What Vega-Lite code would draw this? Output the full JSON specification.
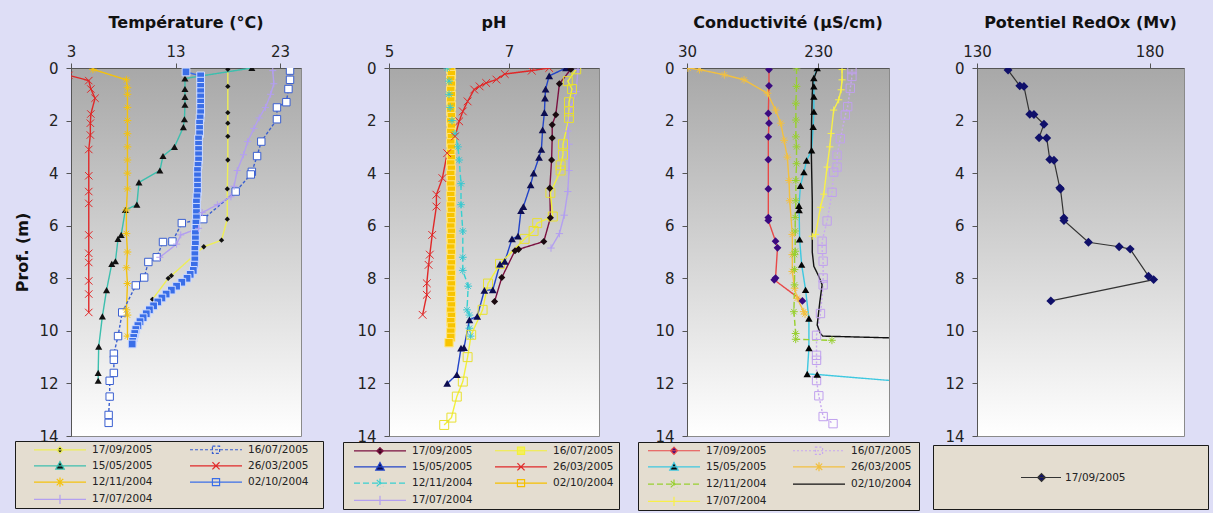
{
"$schema": "https://vega.github.io/schema/vega-lite/v6.json",
"background": "#dedef6",
"padding": {"left": 14, "top": 14, "right": 5, "bottom": 5},
"bounds": "flush",
"spacing": 88,
"config": {
  "font": "DejaVu Sans",
  "view": {"fill": {"gradient": "linear", "x1": 0, "y1": 0, "x2": 0, "y2": 1, "stops": [{"offset": 0, "color": "#a8a8a8"}, {"offset": 1, "color": "#ffffff"}]}, "stroke": "#8a8a8a", "strokeWidth": 1},
  "axis": {"labelFont": "DejaVu Sans", "labelFontSize": 15, "labelColor": "#222222", "domainColor": "#555555", "tickColor": "#555555", "tickSize": 5, "grid": false, "labelFlush": false, "format": "d", "titleFont": "DejaVu Sans", "titleFontWeight": "bold", "titleFontSize": 16, "titleColor": "#111111"},
  "axisY": {"labelPadding": 8, "titlePadding": 8},
  "axisX": {"labelPadding": 4},
  "title": {"font": "DejaVu Sans", "fontSize": 16, "fontWeight": "bold", "color": "#111111", "offset": 13},
  "legend": {"labelFont": "DejaVu Sans", "labelFontSize": 10.5, "labelColor": "#222222", "fillColor": "#e4ddd0", "strokeColor": "#1a1a1a", "symbolSize": 169, "rowPadding": 2.3, "padding": 1, "direction": "horizontal"}
},
"resolve": {"scale": {"x": "independent", "y": "independent", "color": "independent", "strokeDash": "independent"}, "legend": {"color": "independent"}},
"datasets": {
"t": [
{"s":"17/09/2005","d":0.05,"v":18.0},{"s":"17/09/2005","d":0.7,"v":18.0},{"s":"17/09/2005","d":1.7,"v":18.0},{"s":"17/09/2005","d":2.1,"v":18.0},{"s":"17/09/2005","d":2.6,"v":18.0},{"s":"17/09/2005","d":3.5,"v":18.0},{"s":"17/09/2005","d":4.6,"v":17.95},{"s":"17/09/2005","d":5.75,"v":17.95},{"s":"17/09/2005","d":6.55,"v":17.4},{"s":"17/09/2005","d":6.8,"v":15.7},{"s":"17/09/2005","d":7.9,"v":12.6},{"s":"17/09/2005","d":8.0,"v":12.3},{"s":"17/09/2005","d":8.8,"v":10.8},
{"s":"15/05/2005","d":0,"v":20.3},{"s":"15/05/2005","d":0.4,"v":13.9},{"s":"15/05/2005","d":0.8,"v":13.9},{"s":"15/05/2005","d":1.1,"v":13.9},{"s":"15/05/2005","d":1.4,"v":13.9},{"s":"15/05/2005","d":1.95,"v":13.85},{"s":"15/05/2005","d":2.25,"v":13.75},{"s":"15/05/2005","d":3.0,"v":12.9},{"s":"15/05/2005","d":3.35,"v":11.8},{"s":"15/05/2005","d":3.9,"v":11.5},{"s":"15/05/2005","d":4.35,"v":9.5},{"s":"15/05/2005","d":5.2,"v":9.3},{"s":"15/05/2005","d":5.4,"v":8.2},{"s":"15/05/2005","d":6.35,"v":7.8},{"s":"15/05/2005","d":6.5,"v":7.5},{"s":"15/05/2005","d":7.35,"v":7.25},{"s":"15/05/2005","d":7.45,"v":6.9},{"s":"15/05/2005","d":8.45,"v":6.4},{"s":"15/05/2005","d":9.45,"v":6.0},{"s":"15/05/2005","d":10.6,"v":5.65},{"s":"15/05/2005","d":11.6,"v":5.6},{"s":"15/05/2005","d":11.9,"v":5.6},
{"s":"12/11/2004","d":0.05,"v":5.1},{"s":"12/11/2004","d":0.45,"v":8.3},{"s":"12/11/2004","d":0.75,"v":8.4},{"s":"12/11/2004","d":1.0,"v":8.4},{"s":"12/11/2004","d":1.5,"v":8.4},{"s":"12/11/2004","d":2.0,"v":8.4},{"s":"12/11/2004","d":2.5,"v":8.4},{"s":"12/11/2004","d":3.0,"v":8.4},{"s":"12/11/2004","d":3.5,"v":8.4},{"s":"12/11/2004","d":4.0,"v":8.4},{"s":"12/11/2004","d":4.6,"v":8.4},{"s":"12/11/2004","d":5.4,"v":8.3},{"s":"12/11/2004","d":6.3,"v":8.3},{"s":"12/11/2004","d":7.0,"v":8.4},{"s":"12/11/2004","d":7.6,"v":8.3},{"s":"12/11/2004","d":8.2,"v":8.4},{"s":"12/11/2004","d":9.2,"v":8.3},{"s":"12/11/2004","d":9.4,"v":8.4},{"s":"12/11/2004","d":10.2,"v":8.4},
{"s":"26/03/2005","d":0.28,"v":2.8},{"s":"26/03/2005","d":0.48,"v":4.7},{"s":"26/03/2005","d":0.8,"v":4.9},{"s":"26/03/2005","d":1.15,"v":5.3},{"s":"26/03/2005","d":1.75,"v":4.9},{"s":"26/03/2005","d":2.1,"v":4.85},{"s":"26/03/2005","d":2.55,"v":4.85},{"s":"26/03/2005","d":3.1,"v":4.7},{"s":"26/03/2005","d":4.1,"v":4.7},{"s":"26/03/2005","d":4.7,"v":4.7},{"s":"26/03/2005","d":5.15,"v":4.7},{"s":"26/03/2005","d":6.35,"v":4.7},{"s":"26/03/2005","d":7.05,"v":4.7},{"s":"26/03/2005","d":7.4,"v":4.7},{"s":"26/03/2005","d":8.1,"v":4.7},{"s":"26/03/2005","d":8.6,"v":4.7},{"s":"26/03/2005","d":9.3,"v":4.7},
{"s":"16/07/2005","d":0.1,"v":23.95},{"s":"16/07/2005","d":0.45,"v":23.95},{"s":"16/07/2005","d":0.8,"v":23.8},{"s":"16/07/2005","d":1.3,"v":23.6},{"s":"16/07/2005","d":1.5,"v":22.7},{"s":"16/07/2005","d":1.95,"v":22.7},{"s":"16/07/2005","d":2.8,"v":21.2},{"s":"16/07/2005","d":3.35,"v":20.8},{"s":"16/07/2005","d":3.95,"v":20.3},{"s":"16/07/2005","d":4.05,"v":20.2},{"s":"16/07/2005","d":4.7,"v":18.75},{"s":"16/07/2005","d":5.75,"v":15.65},{"s":"16/07/2005","d":5.9,"v":13.6},{"s":"16/07/2005","d":6.6,"v":12.7},{"s":"16/07/2005","d":6.62,"v":11.8},{"s":"16/07/2005","d":7.2,"v":11.2},{"s":"16/07/2005","d":7.38,"v":10.4},{"s":"16/07/2005","d":7.97,"v":10.0},{"s":"16/07/2005","d":8.27,"v":9.2},{"s":"16/07/2005","d":9.3,"v":7.9},{"s":"16/07/2005","d":10.2,"v":7.5},{"s":"16/07/2005","d":10.87,"v":7.1},{"s":"16/07/2005","d":11.1,"v":7.1},{"s":"16/07/2005","d":11.6,"v":7.1},{"s":"16/07/2005","d":11.9,"v":6.7},{"s":"16/07/2005","d":12.5,"v":6.7},{"s":"16/07/2005","d":13.2,"v":6.6},{"s":"16/07/2005","d":13.5,"v":6.6},
{"s":"02/10/2004","d":0.15,"v":14.0},{"s":"02/10/2004","d":0.3,"v":15.4},{"s":"02/10/2004","d":0.5,"v":15.4},{"s":"02/10/2004","d":0.7,"v":15.4},{"s":"02/10/2004","d":0.9,"v":15.4},{"s":"02/10/2004","d":1.1,"v":15.4},{"s":"02/10/2004","d":1.3,"v":15.4},{"s":"02/10/2004","d":1.5,"v":15.4},{"s":"02/10/2004","d":1.7,"v":15.4},{"s":"02/10/2004","d":1.9,"v":15.35},{"s":"02/10/2004","d":2.1,"v":15.3},{"s":"02/10/2004","d":2.3,"v":15.3},{"s":"02/10/2004","d":2.5,"v":15.3},{"s":"02/10/2004","d":2.7,"v":15.2},{"s":"02/10/2004","d":2.9,"v":15.2},{"s":"02/10/2004","d":3.1,"v":15.2},{"s":"02/10/2004","d":3.3,"v":15.2},{"s":"02/10/2004","d":3.5,"v":15.2},{"s":"02/10/2004","d":3.7,"v":15.15},{"s":"02/10/2004","d":3.9,"v":15.1},{"s":"02/10/2004","d":4.1,"v":15.1},{"s":"02/10/2004","d":4.3,"v":15.1},{"s":"02/10/2004","d":4.5,"v":15.1},{"s":"02/10/2004","d":4.7,"v":15.1},{"s":"02/10/2004","d":4.9,"v":15.05},{"s":"02/10/2004","d":5.1,"v":15.0},{"s":"02/10/2004","d":5.3,"v":15.0},{"s":"02/10/2004","d":5.5,"v":15.0},{"s":"02/10/2004","d":5.7,"v":15.0},{"s":"02/10/2004","d":5.9,"v":14.95},{"s":"02/10/2004","d":6.1,"v":14.95},{"s":"02/10/2004","d":6.3,"v":14.9},{"s":"02/10/2004","d":6.5,"v":14.9},{"s":"02/10/2004","d":6.7,"v":14.9},{"s":"02/10/2004","d":6.9,"v":14.85},{"s":"02/10/2004","d":7.1,"v":14.85},{"s":"02/10/2004","d":7.3,"v":14.85},{"s":"02/10/2004","d":7.5,"v":14.8},{"s":"02/10/2004","d":7.7,"v":14.7},{"s":"02/10/2004","d":7.85,"v":14.4},{"s":"02/10/2004","d":8.0,"v":14.1},{"s":"02/10/2004","d":8.15,"v":13.6},{"s":"02/10/2004","d":8.3,"v":13.1},{"s":"02/10/2004","d":8.45,"v":12.6},{"s":"02/10/2004","d":8.6,"v":12.1},{"s":"02/10/2004","d":8.75,"v":11.7},{"s":"02/10/2004","d":8.9,"v":11.3},{"s":"02/10/2004","d":9.05,"v":10.9},{"s":"02/10/2004","d":9.2,"v":10.5},{"s":"02/10/2004","d":9.35,"v":10.2},{"s":"02/10/2004","d":9.5,"v":9.9},{"s":"02/10/2004","d":9.65,"v":9.6},{"s":"02/10/2004","d":9.8,"v":9.4},{"s":"02/10/2004","d":9.95,"v":9.2},{"s":"02/10/2004","d":10.1,"v":9.1},{"s":"02/10/2004","d":10.25,"v":9.0},{"s":"02/10/2004","d":10.4,"v":8.9},{"s":"02/10/2004","d":10.5,"v":8.85},
{"s":"17/07/2004","d":0.1,"v":22.3},{"s":"17/07/2004","d":0.6,"v":22.4},{"s":"17/07/2004","d":1.0,"v":22.1},{"s":"17/07/2004","d":1.5,"v":21.6},{"s":"17/07/2004","d":1.9,"v":21.0},{"s":"17/07/2004","d":2.3,"v":20.5},{"s":"17/07/2004","d":2.8,"v":19.9},{"s":"17/07/2004","d":3.3,"v":19.5},{"s":"17/07/2004","d":3.9,"v":18.9},{"s":"17/07/2004","d":4.5,"v":18.6},{"s":"17/07/2004","d":4.9,"v":18.3},{"s":"17/07/2004","d":5.2,"v":17.0},{"s":"17/07/2004","d":5.5,"v":15.55},{"s":"17/07/2004","d":6.1,"v":15.2},{"s":"17/07/2004","d":6.35,"v":13.5},{"s":"17/07/2004","d":6.7,"v":13.1},{"s":"17/07/2004","d":7.2,"v":11.5}
],
"ph": [
{"s":"17/09/2005","d":0.05,"v":8.03},{"s":"17/09/2005","d":0.6,"v":7.84},{"s":"17/09/2005","d":1.78,"v":7.78},{"s":"17/09/2005","d":2.16,"v":7.72},{"s":"17/09/2005","d":2.66,"v":7.72},{"s":"17/09/2005","d":3.5,"v":7.71},{"s":"17/09/2005","d":4.57,"v":7.68},{"s":"17/09/2005","d":5.7,"v":7.69},{"s":"17/09/2005","d":6.6,"v":7.58},{"s":"17/09/2005","d":6.9,"v":7.16},{"s":"17/09/2005","d":6.95,"v":7.1},{"s":"17/09/2005","d":7.97,"v":6.88},{"s":"17/09/2005","d":8.88,"v":6.76},
{"s":"15/05/2005","d":0,"v":7.95},{"s":"15/05/2005","d":0.3,"v":7.67},{"s":"15/05/2005","d":0.8,"v":7.61},{"s":"15/05/2005","d":1.15,"v":7.6},{"s":"15/05/2005","d":1.7,"v":7.59},{"s":"15/05/2005","d":2.35,"v":7.56},{"s":"15/05/2005","d":3.1,"v":7.54},{"s":"15/05/2005","d":3.4,"v":7.5},{"s":"15/05/2005","d":4.0,"v":7.41},{"s":"15/05/2005","d":4.45,"v":7.36},{"s":"15/05/2005","d":5.27,"v":7.24},{"s":"15/05/2005","d":5.43,"v":7.2},{"s":"15/05/2005","d":6.4,"v":7.15},{"s":"15/05/2005","d":6.5,"v":7.05},{"s":"15/05/2005","d":7.36,"v":6.93},{"s":"15/05/2005","d":7.46,"v":6.85},{"s":"15/05/2005","d":8.44,"v":6.73},{"s":"15/05/2005","d":8.46,"v":6.59},{"s":"15/05/2005","d":9.45,"v":6.47},{"s":"15/05/2005","d":9.58,"v":6.34},{"s":"15/05/2005","d":10.64,"v":6.25},{"s":"15/05/2005","d":10.66,"v":6.2},{"s":"15/05/2005","d":11.67,"v":6.13},{"s":"15/05/2005","d":12.0,"v":5.97},
{"s":"12/11/2004","d":0,"v":5.97},{"s":"12/11/2004","d":0.5,"v":6.0},{"s":"12/11/2004","d":1.0,"v":6.0},{"s":"12/11/2004","d":1.5,"v":6.02},{"s":"12/11/2004","d":2.0,"v":6.05},{"s":"12/11/2004","d":2.5,"v":6.1},{"s":"12/11/2004","d":3.0,"v":6.15},{"s":"12/11/2004","d":3.5,"v":6.17},{"s":"12/11/2004","d":4.4,"v":6.2},{"s":"12/11/2004","d":5.2,"v":6.2},{"s":"12/11/2004","d":6.2,"v":6.23},{"s":"12/11/2004","d":7.2,"v":6.23},{"s":"12/11/2004","d":7.7,"v":6.23},{"s":"12/11/2004","d":8.3,"v":6.32},{"s":"12/11/2004","d":9.2,"v":6.3},{"s":"12/11/2004","d":9.4,"v":6.34},{"s":"12/11/2004","d":9.9,"v":6.34},{"s":"12/11/2004","d":10.2,"v":6.36},
{"s":"16/07/2005","d":0.05,"v":8.12},{"s":"16/07/2005","d":0.5,"v":7.98},{"s":"16/07/2005","d":0.8,"v":8.05},{"s":"16/07/2005","d":1.3,"v":8.0},{"s":"16/07/2005","d":1.65,"v":8.0},{"s":"16/07/2005","d":1.9,"v":8.0},{"s":"16/07/2005","d":2.9,"v":7.9},{"s":"16/07/2005","d":3.3,"v":7.9},{"s":"16/07/2005","d":3.7,"v":7.86},{"s":"16/07/2005","d":3.9,"v":7.86},{"s":"16/07/2005","d":4.75,"v":7.69},{"s":"16/07/2005","d":5.65,"v":7.73},{"s":"16/07/2005","d":5.9,"v":7.47},{"s":"16/07/2005","d":6.2,"v":7.41},{"s":"16/07/2005","d":6.5,"v":7.26},{"s":"16/07/2005","d":7.45,"v":6.85},{"s":"16/07/2005","d":8.2,"v":6.65},{"s":"16/07/2005","d":9.2,"v":6.56},{"s":"16/07/2005","d":10.15,"v":6.37},{"s":"16/07/2005","d":11.0,"v":6.31},{"s":"16/07/2005","d":11.93,"v":6.23},{"s":"16/07/2005","d":12.5,"v":6.13},{"s":"16/07/2005","d":13.3,"v":6.04},{"s":"16/07/2005","d":13.58,"v":5.92},
{"s":"26/03/2005","d":0,"v":7.67},{"s":"26/03/2005","d":0.1,"v":7.38},{"s":"26/03/2005","d":0.23,"v":6.93},{"s":"26/03/2005","d":0.44,"v":6.79},{"s":"26/03/2005","d":0.57,"v":6.62},{"s":"26/03/2005","d":0.7,"v":6.51},{"s":"26/03/2005","d":0.82,"v":6.42},{"s":"26/03/2005","d":1.27,"v":6.31},{"s":"26/03/2005","d":1.65,"v":6.23},{"s":"26/03/2005","d":2.03,"v":6.17},{"s":"26/03/2005","d":2.6,"v":6.1},{"s":"26/03/2005","d":3.24,"v":5.97},{"s":"26/03/2005","d":4.19,"v":5.89},{"s":"26/03/2005","d":4.82,"v":5.79},{"s":"26/03/2005","d":5.27,"v":5.79},{"s":"26/03/2005","d":6.35,"v":5.72},{"s":"26/03/2005","d":7.1,"v":5.68},{"s":"26/03/2005","d":7.49,"v":5.66},{"s":"26/03/2005","d":8.19,"v":5.63},{"s":"26/03/2005","d":8.63,"v":5.63},{"s":"26/03/2005","d":9.39,"v":5.56},
{"s":"02/10/2004","d":0.05,"v":6.03},{"s":"02/10/2004","d":0.25,"v":6.04},{"s":"02/10/2004","d":0.45,"v":6.03},{"s":"02/10/2004","d":0.65,"v":6.04},{"s":"02/10/2004","d":0.85,"v":6.03},{"s":"02/10/2004","d":1.05,"v":6.04},{"s":"02/10/2004","d":1.25,"v":6.03},{"s":"02/10/2004","d":1.45,"v":6.04},{"s":"02/10/2004","d":1.65,"v":6.03},{"s":"02/10/2004","d":1.85,"v":6.04},{"s":"02/10/2004","d":2.05,"v":6.03},{"s":"02/10/2004","d":2.25,"v":6.04},{"s":"02/10/2004","d":2.45,"v":6.03},{"s":"02/10/2004","d":2.65,"v":6.04},{"s":"02/10/2004","d":2.85,"v":6.03},{"s":"02/10/2004","d":3.05,"v":6.04},{"s":"02/10/2004","d":3.25,"v":6.03},{"s":"02/10/2004","d":3.45,"v":6.04},{"s":"02/10/2004","d":3.65,"v":6.03},{"s":"02/10/2004","d":3.85,"v":6.04},{"s":"02/10/2004","d":4.05,"v":6.03},{"s":"02/10/2004","d":4.25,"v":6.04},{"s":"02/10/2004","d":4.45,"v":6.03},{"s":"02/10/2004","d":4.65,"v":6.04},{"s":"02/10/2004","d":4.85,"v":6.03},{"s":"02/10/2004","d":5.05,"v":6.04},{"s":"02/10/2004","d":5.25,"v":6.03},{"s":"02/10/2004","d":5.45,"v":6.04},{"s":"02/10/2004","d":5.65,"v":6.03},{"s":"02/10/2004","d":5.85,"v":6.04},{"s":"02/10/2004","d":6.05,"v":6.03},{"s":"02/10/2004","d":6.25,"v":6.04},{"s":"02/10/2004","d":6.45,"v":6.03},{"s":"02/10/2004","d":6.65,"v":6.04},{"s":"02/10/2004","d":6.85,"v":6.03},{"s":"02/10/2004","d":7.05,"v":6.04},{"s":"02/10/2004","d":7.25,"v":6.03},{"s":"02/10/2004","d":7.45,"v":6.04},{"s":"02/10/2004","d":7.65,"v":6.03},{"s":"02/10/2004","d":7.85,"v":6.04},{"s":"02/10/2004","d":8.05,"v":6.03},{"s":"02/10/2004","d":8.25,"v":6.04},{"s":"02/10/2004","d":8.45,"v":6.03},{"s":"02/10/2004","d":8.65,"v":6.04},{"s":"02/10/2004","d":8.85,"v":6.03},{"s":"02/10/2004","d":9.05,"v":6.04},{"s":"02/10/2004","d":9.25,"v":6.03},{"s":"02/10/2004","d":9.45,"v":6.04},{"s":"02/10/2004","d":9.65,"v":6.03},{"s":"02/10/2004","d":9.85,"v":6.04},{"s":"02/10/2004","d":10.05,"v":6.03},{"s":"02/10/2004","d":10.25,"v":6.03},{"s":"02/10/2004","d":10.45,"v":6.0},
{"s":"17/07/2004","d":0.05,"v":8.15},{"s":"17/07/2004","d":0.9,"v":8.12},{"s":"17/07/2004","d":1.5,"v":8.03},{"s":"17/07/2004","d":2.4,"v":7.98},{"s":"17/07/2004","d":2.9,"v":8.0},{"s":"17/07/2004","d":3.9,"v":8.0},{"s":"17/07/2004","d":4.7,"v":7.98},{"s":"17/07/2004","d":5.6,"v":7.92},{"s":"17/07/2004","d":6.3,"v":7.84},{"s":"17/07/2004","d":6.85,"v":7.7}
],
"c": [
{"s":"17/09/2005","d":0.06,"v":155},{"s":"17/09/2005","d":0.68,"v":155},{"s":"17/09/2005","d":1.73,"v":154},{"s":"17/09/2005","d":2.1,"v":155},{"s":"17/09/2005","d":2.62,"v":154},{"s":"17/09/2005","d":3.49,"v":154},{"s":"17/09/2005","d":4.6,"v":154},{"s":"17/09/2005","d":5.69,"v":154},{"s":"17/09/2005","d":5.8,"v":154},{"s":"17/09/2005","d":6.59,"v":165},{"s":"17/09/2005","d":6.84,"v":168},{"s":"17/09/2005","d":7.99,"v":165},{"s":"17/09/2005","d":8.06,"v":163},{"s":"17/09/2005","d":8.86,"v":206},
{"s":"15/05/2005","d":0,"v":228.5},{"s":"15/05/2005","d":0.38,"v":223.4},{"s":"15/05/2005","d":0.7,"v":223.4},{"s":"15/05/2005","d":1.09,"v":223.4},{"s":"15/05/2005","d":1.66,"v":223.4},{"s":"15/05/2005","d":2.24,"v":222.4},{"s":"15/05/2005","d":3.13,"v":220},{"s":"15/05/2005","d":3.52,"v":212.3},{"s":"15/05/2005","d":3.96,"v":208.3},{"s":"15/05/2005","d":4.48,"v":203},{"s":"15/05/2005","d":5.24,"v":200.7},{"s":"15/05/2005","d":5.4,"v":201},{"s":"15/05/2005","d":6.52,"v":201.7},{"s":"15/05/2005","d":7.48,"v":204.8},{"s":"15/05/2005","d":8.44,"v":210.8},{"s":"15/05/2005","d":9.53,"v":215.9},{"s":"15/05/2005","d":10.65,"v":215.9},{"s":"15/05/2005","d":11.64,"v":213.3},{"s":"15/05/2005","d":11.66,"v":228.5},{"s":"15/05/2005","d":11.9,"v":345},
{"s":"12/11/2004","d":0,"v":197},{"s":"12/11/2004","d":0.7,"v":197},{"s":"12/11/2004","d":1.34,"v":196},{"s":"12/11/2004","d":1.98,"v":196},{"s":"12/11/2004","d":2.62,"v":196},{"s":"12/11/2004","d":3.0,"v":197},{"s":"12/11/2004","d":3.64,"v":197},{"s":"12/11/2004","d":4.28,"v":196},{"s":"12/11/2004","d":5.05,"v":196},{"s":"12/11/2004","d":5.69,"v":195},{"s":"12/11/2004","d":6.2,"v":195},{"s":"12/11/2004","d":6.97,"v":195},{"s":"12/11/2004","d":7.1,"v":194},{"s":"12/11/2004","d":7.67,"v":194},{"s":"12/11/2004","d":8.25,"v":194},{"s":"12/11/2004","d":9.27,"v":193},{"s":"12/11/2004","d":10.1,"v":195.7},{"s":"12/11/2004","d":10.32,"v":195.7},{"s":"12/11/2004","d":10.36,"v":251},
{"s":"16/07/2005","d":0.06,"v":281.5},{"s":"16/07/2005","d":0.32,"v":281.5},{"s":"16/07/2005","d":0.77,"v":279},{"s":"16/07/2005","d":1.47,"v":275},{"s":"16/07/2005","d":1.79,"v":271.4},{"s":"16/07/2005","d":2.69,"v":263.8},{"s":"16/07/2005","d":3.32,"v":258.8},{"s":"16/07/2005","d":3.77,"v":258.8},{"s":"16/07/2005","d":3.96,"v":253.7},{"s":"16/07/2005","d":4.73,"v":251.2},{"s":"16/07/2005","d":5.82,"v":243.6},{"s":"16/07/2005","d":6.59,"v":236},{"s":"16/07/2005","d":6.9,"v":236},{"s":"16/07/2005","d":7.35,"v":237.6},{"s":"16/07/2005","d":7.99,"v":237.6},{"s":"16/07/2005","d":8.25,"v":237.6},{"s":"16/07/2005","d":9.34,"v":233.5},{"s":"16/07/2005","d":10.17,"v":227.5},{"s":"16/07/2005","d":10.93,"v":227.5},{"s":"16/07/2005","d":11.12,"v":227.5},{"s":"16/07/2005","d":11.89,"v":227.5},{"s":"16/07/2005","d":12.47,"v":231},{"s":"16/07/2005","d":13.26,"v":237.6},{"s":"16/07/2005","d":13.53,"v":252.7},
{"s":"26/03/2005","d":0,"v":31.5},{"s":"26/03/2005","d":0.06,"v":49},{"s":"26/03/2005","d":0.26,"v":87},{"s":"26/03/2005","d":0.45,"v":117},{"s":"26/03/2005","d":0.96,"v":152.7},{"s":"26/03/2005","d":1.6,"v":165},{"s":"26/03/2005","d":2.1,"v":173},{"s":"26/03/2005","d":2.75,"v":178},{"s":"26/03/2005","d":3.39,"v":183},{"s":"26/03/2005","d":4.28,"v":185.6},{"s":"26/03/2005","d":5.05,"v":186.6},{"s":"26/03/2005","d":6.33,"v":190.6},{"s":"26/03/2005","d":7.1,"v":190.6},{"s":"26/03/2005","d":7.74,"v":190.6},{"s":"26/03/2005","d":8.38,"v":194},{"s":"26/03/2005","d":8.76,"v":198},{"s":"26/03/2005","d":9.27,"v":208},{"s":"26/03/2005","d":9.36,"v":210},
{"s":"02/10/2004","d":0,"v":229.5},{"s":"02/10/2004","d":0.5,"v":222},{"s":"02/10/2004","d":1.0,"v":221},{"s":"02/10/2004","d":2.0,"v":220},{"s":"02/10/2004","d":3.1,"v":219.5},{"s":"02/10/2004","d":3.8,"v":220},{"s":"02/10/2004","d":5.05,"v":221},{"s":"02/10/2004","d":6.3,"v":221},{"s":"02/10/2004","d":7.0,"v":221},{"s":"02/10/2004","d":7.54,"v":223.4},{"s":"02/10/2004","d":7.93,"v":231},{"s":"02/10/2004","d":8.25,"v":236},{"s":"02/10/2004","d":8.9,"v":232.5},{"s":"02/10/2004","d":9.78,"v":228.5},{"s":"02/10/2004","d":10.1,"v":233.5},{"s":"02/10/2004","d":10.2,"v":237},{"s":"02/10/2004","d":10.27,"v":345},
{"s":"17/07/2004","d":0.06,"v":266.4},{"s":"17/07/2004","d":0.45,"v":266.4},{"s":"17/07/2004","d":0.83,"v":265},{"s":"17/07/2004","d":1.21,"v":261.3},{"s":"17/07/2004","d":1.6,"v":253.7},{"s":"17/07/2004","d":2.49,"v":249.7},{"s":"17/07/2004","d":3.0,"v":247.7},{"s":"17/07/2004","d":3.77,"v":243.6},{"s":"17/07/2004","d":4.8,"v":238.6},{"s":"17/07/2004","d":5.3,"v":233.5},{"s":"17/07/2004","d":6.33,"v":226},{"s":"17/07/2004","d":6.4,"v":221}
],
"r": [
{"s":"17/09/2005","d":0.08,"v":139.0},{"s":"17/09/2005","d":0.68,"v":142.4},{"s":"17/09/2005","d":0.7,"v":143.6},{"s":"17/09/2005","d":1.76,"v":145.3},{"s":"17/09/2005","d":1.77,"v":146.5},{"s":"17/09/2005","d":2.14,"v":149.4},{"s":"17/09/2005","d":2.65,"v":148.0},{"s":"17/09/2005","d":2.66,"v":150.2},{"s":"17/09/2005","d":3.48,"v":151.1},{"s":"17/09/2005","d":3.51,"v":152.3},{"s":"17/09/2005","d":4.56,"v":154.0},{"s":"17/09/2005","d":4.6,"v":154.2},{"s":"17/09/2005","d":5.71,"v":155.2},{"s":"17/09/2005","d":5.8,"v":155.2},{"s":"17/09/2005","d":6.63,"v":162.3},{"s":"17/09/2005","d":6.8,"v":171.2},{"s":"17/09/2005","d":6.89,"v":174.4},{"s":"17/09/2005","d":7.92,"v":179.7},{"s":"17/09/2005","d":8.05,"v":181.2},{"s":"17/09/2005","d":8.86,"v":151.4}
]
},
"hconcat": [
{
  "title": "Température (°C)",
  "width": 230, "height": 368,
  "data": {"name": "t"},
  "encoding": {
    "x": {"field": "v", "type": "quantitative", "scale": {"domain": [3, 25], "nice": false, "zero": false}, "axis": {"orient": "top", "values": [3, 13, 23], "title": null}},
    "y": {"field": "d", "type": "quantitative", "scale": {"domain": [0, 14], "reverse": true, "nice": false}, "axis": {"values": [0, 2, 4, 6, 8, 10, 12, 14], "title": "Prof. (m)"}}
  },
  "layer": [
    {"mark": {"type": "line", "strokeWidth": 1.4, "clip": true},
     "encoding": {
       "color": {"field": "s", "type": "nominal",
         "scale": {"domain": ["17/09/2005", "16/07/2005", "15/05/2005", "26/03/2005", "12/11/2004", "02/10/2004", "17/07/2004"], "range": ["#eeee55", "#3a5fd0", "#3cbfae", "#e02828", "#f4c20d", "#3a6ee8", "#b39ff0"]},
         "legend": {"title": null, "orient": "none", "legendX": -56, "legendY": 373, "columns": 2, "columnPadding": 6, "labelOffset": 61,
           "encode": {"symbols": {"update": {
             "shape": {"signal": "'M21.46,0M1.615,0H9.615' + {'17/09/2005':'M5.615,-0.5L6.115,0L5.615,0.5L5.115,0Z','16/07/2005':'M5.065,-0.55H6.165V0.55H5.065Z','15/05/2005':'M5.615,-0.65L6.265,0.5L4.965,0.5Z','26/03/2005':'M5.065,-0.55L6.165,0.55M5.065,0.55L6.165,-0.55','12/11/2004':'M5.615,-0.7V0.7M5.115,-0.5L6.115,0.5M5.115,0.5L6.115,-0.5','02/10/2004':'M5.065,-0.55H6.165V0.55H5.065Z','17/07/2004':'M5.615,-0.7V0.7'}[datum.value]"},
             "fill": {"signal": "{'17/09/2005':'#111111','16/07/2005':'#e4ddd0','15/05/2005':'#111111','26/03/2005':'transparent','12/11/2004':'transparent','02/10/2004':'#e4ddd0','17/07/2004':'transparent'}[datum.value]"},
             "strokeDash": {"signal": "datum.value==='16/07/2005'?[3,2]:[1,0]"},
             "size": {"value": 169}, "strokeWidth": {"value": 1.2}}}}}},
       "strokeDash": {"field": "s", "type": "nominal", "legend": null, "scale": {"domain": ["17/09/2005", "16/07/2005", "15/05/2005", "26/03/2005", "12/11/2004", "02/10/2004", "17/07/2004"], "range": [[1, 0], [3, 2], [1, 0], [1, 0], [1, 0], [1, 0], [1, 0]]}},
       "order": {"value": null}
     }},
    {"transform": [{"filter": {"field": "s", "equal": "17/09/2005"}}], "mark": {"type": "point", "clip": true, "opacity": 1, "shape": "diamond", "filled": true, "color": "#111111", "size": 28}},
    {"transform": [{"filter": {"field": "s", "equal": "16/07/2005"}}], "mark": {"type": "point", "clip": true, "opacity": 1, "shape": "square", "fill": "#ffffff", "stroke": "#3a5fd0", "strokeWidth": 1, "size": 55}},
    {"transform": [{"filter": {"field": "s", "equal": "15/05/2005"}}], "mark": {"type": "point", "clip": true, "opacity": 1, "shape": "triangle-up", "filled": true, "color": "#111111", "size": 50}},
    {"transform": [{"filter": {"field": "s", "equal": "26/03/2005"}}], "mark": {"type": "point", "clip": true, "opacity": 1, "shape": "M-1,-1L1,1M-1,1L1,-1", "filled": false, "color": "#e02828", "strokeWidth": 1, "size": 55}},
    {"transform": [{"filter": {"field": "s", "equal": "12/11/2004"}}], "mark": {"type": "point", "clip": true, "opacity": 1, "shape": "M-1,0H1M0,-1V1M-0.7,-0.7L0.7,0.7M-0.7,0.7L0.7,-0.7", "filled": false, "color": "#f4c20d", "strokeWidth": 1, "size": 60}},
    {"transform": [{"filter": {"field": "s", "equal": "02/10/2004"}}], "mark": {"type": "point", "clip": true, "opacity": 1, "shape": "square", "fill": "#3a6ee8", "stroke": "#d0dcff", "strokeWidth": 1, "size": 60}},
    {"transform": [{"filter": {"field": "s", "equal": "17/07/2004"}}], "mark": {"type": "point", "clip": true, "opacity": 1, "shape": "M-1,0H1M0,-1V1", "filled": false, "color": "#b39ff0", "strokeWidth": 1, "size": 50}}
  ]
},
{
  "title": "pH",
  "width": 210, "height": 368,
  "data": {"name": "ph"},
  "encoding": {
    "x": {"field": "v", "type": "quantitative", "scale": {"domain": [5, 8.5], "nice": false, "zero": false}, "axis": {"orient": "top", "values": [5, 7], "title": null}},
    "y": {"field": "d", "type": "quantitative", "scale": {"domain": [0, 14], "reverse": true, "nice": false}, "axis": {"values": [0, 2, 4, 6, 8, 10, 12, 14], "title": null}}
  },
  "layer": [
    {"mark": {"type": "line", "strokeWidth": 1.4, "clip": true},
     "encoding": {
       "color": {"field": "s", "type": "nominal",
         "scale": {"domain": ["17/09/2005", "16/07/2005", "15/05/2005", "26/03/2005", "12/11/2004", "02/10/2004", "17/07/2004"], "range": ["#7a1040", "#f2f03a", "#2244c8", "#e02828", "#38d0d0", "#f5c000", "#b39ff0"]},
         "legend": {"title": null, "orient": "none", "legendX": -46, "legendY": 374, "columns": 2, "columnPadding": 8, "labelOffset": 53,
           "encode": {"symbols": {"update": {
             "shape": {"signal": "'M18.85,0M0.385,0H8.385' + {'17/09/2005':'M4.385,-0.5L4.885,0L4.385,0.5L3.885,0Z','16/07/2005':'M3.835,-0.55H4.935V0.55H3.835Z','15/05/2005':'M4.385,-0.65L5.035,0.5L3.735,0.5Z','26/03/2005':'M3.835,-0.55L4.935,0.55M3.835,0.55L4.935,-0.55','12/11/2004':'M4.385,-0.7V0.7M3.885,-0.5L4.885,0.5M3.885,0.5L4.885,-0.5','02/10/2004':'M3.835,-0.55H4.935V0.55H3.835Z','17/07/2004':'M4.385,-0.7V0.7'}[datum.value]"},
             "fill": {"signal": "{'17/09/2005':'#1a0a10','16/07/2005':'#f4ee60','15/05/2005':'#0d0d50','26/03/2005':'transparent','12/11/2004':'transparent','02/10/2004':'#e4ddd0','17/07/2004':'transparent'}[datum.value]"},
             "strokeDash": {"signal": "datum.value==='12/11/2004'?[6,3]:[1,0]"},
             "size": {"value": 169}, "strokeWidth": {"value": 1.2}}}}}},
       "strokeDash": {"field": "s", "type": "nominal", "legend": null, "scale": {"domain": ["17/09/2005", "16/07/2005", "15/05/2005", "26/03/2005", "12/11/2004", "02/10/2004", "17/07/2004"], "range": [[1, 0], [1, 0], [1, 0], [1, 0], [6, 3], [1, 0], [1, 0]]}},
       "order": {"value": null}
     }},
    {"transform": [{"filter": {"field": "s", "equal": "02/10/2004"}}], "mark": {"type": "point", "clip": true, "opacity": 1, "shape": "square", "fill": "#f8c400", "stroke": "#ffe680", "strokeWidth": 1, "size": 70}},
    {"transform": [{"filter": {"field": "s", "equal": "12/11/2004"}}], "mark": {"type": "point", "clip": true, "opacity": 1, "shape": "M-1,0H1M0,-1V1M-0.7,-0.7L0.7,0.7M-0.7,0.7L0.7,-0.7", "filled": false, "color": "#38c8d0", "strokeWidth": 1, "size": 60}},
    {"transform": [{"filter": {"field": "s", "equal": "17/07/2004"}}], "mark": {"type": "point", "clip": true, "opacity": 1, "shape": "M-1,0H1M0,-1V1", "filled": false, "color": "#b39ff0", "strokeWidth": 1, "size": 55}},
    {"transform": [{"filter": {"field": "s", "equal": "16/07/2005"}}], "mark": {"type": "point", "clip": true, "opacity": 1, "shape": "square", "filled": false, "color": "#e8e030", "strokeWidth": 1, "size": 80}},
    {"transform": [{"filter": {"field": "s", "equal": "26/03/2005"}}], "mark": {"type": "point", "clip": true, "opacity": 1, "shape": "M-1,-1L1,1M-1,1L1,-1", "filled": false, "color": "#e02828", "strokeWidth": 1, "size": 60}},
    {"transform": [{"filter": {"field": "s", "equal": "15/05/2005"}}], "mark": {"type": "point", "clip": true, "opacity": 1, "shape": "triangle-up", "filled": true, "color": "#0d0d50", "size": 60}},
    {"transform": [{"filter": {"field": "s", "equal": "17/09/2005"}}], "mark": {"type": "point", "clip": true, "opacity": 1, "shape": "diamond", "filled": true, "color": "#1a0a10", "size": 50}}
  ]
},
{
  "title": "Conductivité (µS/cm)",
  "width": 202, "height": 368,
  "data": {"name": "c"},
  "encoding": {
    "x": {"field": "v", "type": "quantitative", "scale": {"domain": [30, 338], "nice": false, "zero": false}, "axis": {"orient": "top", "values": [30, 230], "title": null}},
    "y": {"field": "d", "type": "quantitative", "scale": {"domain": [0, 14], "reverse": true, "nice": false}, "axis": {"values": [0, 2, 4, 6, 8, 10, 12, 14], "title": null}}
  },
  "layer": [
    {"mark": {"type": "line", "strokeWidth": 1.4, "clip": true},
     "encoding": {
       "color": {"field": "s", "type": "nominal",
         "scale": {"domain": ["17/09/2005", "16/07/2005", "15/05/2005", "26/03/2005", "12/11/2004", "02/10/2004", "17/07/2004"], "range": ["#e84848", "#c8a8f0", "#3ec8e0", "#f2c040", "#98d030", "#111111", "#f8f048"]},
         "legend": {"title": null, "orient": "none", "legendX": -49, "legendY": 374, "columns": 2, "columnPadding": 11, "labelOffset": 52,
           "encode": {"symbols": {"update": {
             "shape": {"signal": "'M19.09,0M0.231,0H8.231' + {'17/09/2005':'M4.231,-0.55L4.781,0L4.231,0.55L3.681,0Z','16/07/2005':'M3.681,-0.55H4.781V0.55H3.681Z','15/05/2005':'M4.231,-0.65L4.881,0.5L3.581,0.5Z','26/03/2005':'M4.231,-0.7V0.7M3.731,-0.5L4.731,0.5M3.731,0.5L4.731,-0.5','12/11/2004':'M4.231,-0.7V0.7M3.731,-0.5L4.731,0.5M3.731,0.5L4.731,-0.5','02/10/2004':'','17/07/2004':'M4.231,-0.7V0.7'}[datum.value]"},
             "fill": {"signal": "{'17/09/2005':'#3a0a80','16/07/2005':'transparent','15/05/2005':'#050505','26/03/2005':'transparent','12/11/2004':'transparent','02/10/2004':'transparent','17/07/2004':'transparent'}[datum.value]"},
             "strokeDash": {"signal": "datum.value==='16/07/2005'?[2,2]:(datum.value==='12/11/2004'?[6,3]:[1,0])"},
             "size": {"value": 169}, "strokeWidth": {"value": 1.2}}}}}},
       "strokeDash": {"field": "s", "type": "nominal", "legend": null, "scale": {"domain": ["17/09/2005", "16/07/2005", "15/05/2005", "26/03/2005", "12/11/2004", "02/10/2004", "17/07/2004"], "range": [[1, 0], [2, 2], [1, 0], [1, 0], [6, 3], [1, 0], [1, 0]]}},
       "order": {"value": null}
     }},
    {"transform": [{"filter": {"field": "s", "equal": "16/07/2005"}}], "mark": {"type": "point", "clip": true, "opacity": 1, "shape": "square", "filled": false, "color": "#c0a0ee", "strokeWidth": 1, "size": 70}},
    {"transform": [{"filter": {"field": "s", "equal": "17/07/2004"}}], "mark": {"type": "point", "clip": true, "opacity": 1, "shape": "M-1,0H1M0,-1V1", "filled": false, "color": "#f8f048", "strokeWidth": 1, "size": 50}},
    {"transform": [{"filter": {"field": "s", "equal": "26/03/2005"}}], "mark": {"type": "point", "clip": true, "opacity": 1, "shape": "M-1,0H1M0,-1V1M-0.7,-0.7L0.7,0.7M-0.7,0.7L0.7,-0.7", "filled": false, "color": "#f2c040", "strokeWidth": 1, "size": 60}},
    {"transform": [{"filter": {"field": "s", "equal": "12/11/2004"}}], "mark": {"type": "point", "clip": true, "opacity": 1, "shape": "M-1,0H1M0,-1V1M-0.7,-0.7L0.7,0.7M-0.7,0.7L0.7,-0.7", "filled": false, "color": "#98d030", "strokeWidth": 1, "size": 60}},
    {"transform": [{"filter": {"field": "s", "equal": "15/05/2005"}}], "mark": {"type": "point", "clip": true, "opacity": 1, "shape": "triangle-up", "filled": true, "color": "#050505", "size": 55}},
    {"transform": [{"filter": {"field": "s", "equal": "17/09/2005"}}], "mark": {"type": "point", "clip": true, "opacity": 1, "shape": "diamond", "filled": true, "color": "#3a0a80", "size": 60}}
  ]
},
{
  "title": "Potentiel RedOx (Mv)",
  "width": 207, "height": 368,
  "data": {"name": "r"},
  "encoding": {
    "x": {"field": "v", "type": "quantitative", "scale": {"domain": [130, 190], "nice": false, "zero": false}, "axis": {"orient": "top", "values": [130, 180], "title": null}},
    "y": {"field": "d", "type": "quantitative", "scale": {"domain": [0, 14], "reverse": true, "nice": false}, "axis": {"values": [0, 2, 4, 6, 8, 10, 12, 14], "title": null}}
  },
  "layer": [
    {"mark": {"type": "line", "strokeWidth": 1.2, "clip": true},
     "encoding": {
       "color": {"field": "s", "type": "nominal",
         "scale": {"domain": ["17/09/2005"], "range": ["#333333"]},
         "legend": {"title": null, "orient": "none", "legendX": -44, "legendY": 377, "padding": 25, "labelOffset": 92,
           "encode": {"symbols": {"update": {
             "shape": {"value": "M33.0,0M8.54,0H14.69M11.7,-0.6L12.3,0L11.7,0.6L11.1,0Z"},
             "fill": {"value": "#10106a"},
             "size": {"value": 169}, "strokeWidth": {"value": 1.2}}}}}},
       "order": {"value": null}
     }},
    {"mark": {"type": "point", "clip": true, "opacity": 1, "size": 80, "filled": true, "color": "#10106a", "shape": "diamond"}}
  ]
}
]
}
